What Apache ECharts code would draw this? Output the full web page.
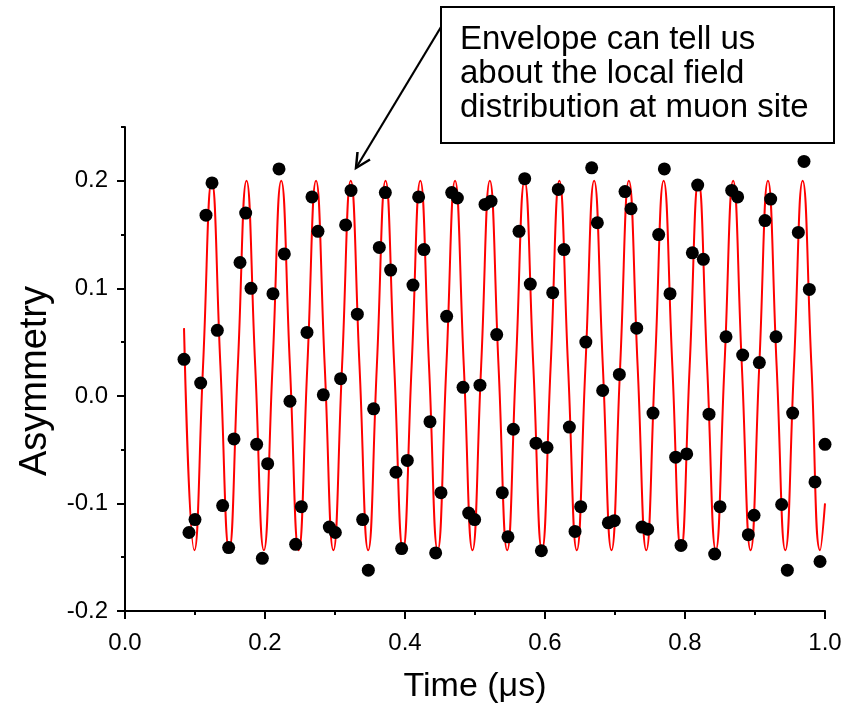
<!DOCTYPE html>
<html>
<head>
<meta charset="utf-8">
<script src="https://cdn.jsdelivr.net/npm/echarts@6/dist/echarts.min.js"></script>
<style>
  html, body { margin: 0; padding: 0; background: #fff; }
  #chart { width: 846px; height: 710px; }
</style>
</head>
<body>
<div id="chart"></div>
<script>
// ---- measured data points (time in microseconds, asymmetry) ----
const dataTime = [
  0.0843, 0.0914, 0.1000, 0.1081, 0.1157, 0.1243, 0.1319, 0.1395, 0.1481, 0.1557,
  0.1643, 0.1724, 0.1800, 0.1881, 0.1962, 0.2038, 0.2114, 0.2200, 0.2276, 0.2357,
  0.2438, 0.2519, 0.2600, 0.2671, 0.2757, 0.2833, 0.2919, 0.3005, 0.3080, 0.3152,
  0.3229, 0.3319, 0.3395, 0.3476, 0.3552, 0.3633, 0.3719, 0.3795, 0.3871, 0.3952,
  0.4033, 0.4114, 0.4195, 0.4271, 0.4357, 0.4438, 0.4514, 0.4595, 0.4667, 0.4748,
  0.4829, 0.4910, 0.4995, 0.5071, 0.5143, 0.5229, 0.5310, 0.5390, 0.5471, 0.5548,
  0.5629, 0.5710, 0.5790, 0.5871, 0.5948, 0.6029, 0.6110, 0.6190, 0.6271, 0.6348,
  0.6429, 0.6510, 0.6583, 0.6667, 0.6748, 0.6824, 0.6905, 0.6990, 0.7062, 0.7143,
  0.7229, 0.7310, 0.7386, 0.7467, 0.7543, 0.7624, 0.7705, 0.7786, 0.7867, 0.7943,
  0.8024, 0.8105, 0.8181, 0.8262, 0.8343, 0.8424, 0.8500, 0.8586, 0.8667, 0.8752,
  0.8824, 0.8905, 0.8986, 0.9062, 0.9143, 0.9224, 0.9300, 0.9381, 0.9462, 0.9538,
  0.9619, 0.9700, 0.9776, 0.9857, 0.9929, 1.0000
];
const dataAsym = [
  0.034, -0.127, -0.115, 0.012, 0.168, 0.198, 0.061, -0.102, -0.141, -0.040,
  0.124, 0.170, 0.100, -0.045, -0.151, -0.063, 0.095, 0.211, 0.132, -0.005,
  -0.138, -0.103, 0.059, 0.185, 0.153, 0.001, -0.122, -0.127, 0.016, 0.159,
  0.191, 0.076, -0.115, -0.162, -0.012, 0.138, 0.189, 0.117, -0.071, -0.142,
  -0.060, 0.103, 0.185, 0.136, -0.024, -0.146, -0.090, 0.074, 0.189, 0.184,
  0.008, -0.109, -0.115, 0.010, 0.178, 0.181, 0.057, -0.090, -0.131, -0.031,
  0.153, 0.202, 0.104, -0.044, -0.144, -0.048, 0.096, 0.192, 0.136, -0.029,
  -0.126, -0.103, 0.050, 0.212, 0.161, 0.005, -0.118, -0.116, 0.020, 0.190,
  0.174, 0.063, -0.122, -0.124, -0.016, 0.150, 0.211, 0.095, -0.057, -0.139,
  -0.054, 0.133, 0.196, 0.127, -0.017, -0.147, -0.103, 0.055, 0.191, 0.185,
  0.038, -0.129, -0.111, 0.031, 0.163, 0.183, 0.055, -0.101, -0.162, -0.016,
  0.152, 0.218, 0.099, -0.080, -0.154, -0.045
];

// ---- fitted curve, read at its troughs / crossings / peaks ----
const fitTime = [
  0.0843,
  0.0991, 0.1115, 0.1239, 0.1363,
  0.1488, 0.1612, 0.1736, 0.1860,
  0.1984, 0.2108, 0.2232, 0.2356,
  0.2481, 0.2605, 0.2729, 0.2853,
  0.2977, 0.3101, 0.3225, 0.3350,
  0.3474, 0.3598, 0.3722, 0.3846,
  0.3971, 0.4095, 0.4219, 0.4343,
  0.4467, 0.4591, 0.4715, 0.4840,
  0.4964, 0.5088, 0.5212, 0.5336,
  0.5460, 0.5584, 0.5708, 0.5833,
  0.5957, 0.6081, 0.6205, 0.6329,
  0.6454, 0.6578, 0.6702, 0.6826,
  0.6950, 0.7074, 0.7198, 0.7323,
  0.7447, 0.7571, 0.7695, 0.7819,
  0.7943, 0.8067, 0.8192, 0.8316,
  0.8440, 0.8564, 0.8688, 0.8812,
  0.8937, 0.9061, 0.9185, 0.9309,
  0.9433, 0.9557, 0.9681, 0.9806,
  0.9930,
  1.0000
];
const fitAsym = [
  0.063,
  -0.1435, 0.028, 0.200, 0.028,
  -0.1435, 0.028, 0.200, 0.028,
  -0.1435, 0.028, 0.200, 0.028,
  -0.1435, 0.028, 0.200, 0.028,
  -0.1435, 0.028, 0.200, 0.028,
  -0.1435, 0.028, 0.200, 0.028,
  -0.1435, 0.028, 0.200, 0.028,
  -0.1435, 0.028, 0.200, 0.028,
  -0.1435, 0.028, 0.200, 0.028,
  -0.1435, 0.028, 0.200, 0.028,
  -0.1435, 0.028, 0.200, 0.028,
  -0.1435, 0.028, 0.200, 0.028,
  -0.1435, 0.028, 0.200, 0.028,
  -0.1435, 0.028, 0.200, 0.028,
  -0.1435, 0.028, 0.200, 0.028,
  -0.1435, 0.028, 0.200, 0.028,
  -0.1435, 0.028, 0.200, 0.028,
  -0.1435, 0.028, 0.200, 0.028,
  -0.1435,
  -0.100
];

// ---- axis ticks / labels ----
const xLabelValues = [0, 0.2, 0.4, 0.6, 0.8, 1.0];
const yLabelValues = [-0.2, -0.1, 0, 0.1, 0.2];
const xTitle = 'Time (\u03bcs)';
const yTitle = 'Asymmetry';
const noteText = ['Envelope can tell us', 'about the local field', 'distribution at muon site'];

const FONT = '"Liberation Sans", Arial, Helvetica, sans-serif';
const BLACK = '#000';

const chart = echarts.init(document.getElementById('chart'), null, { renderer: 'canvas' });

const scatterData = dataTime.map((t, i) => [t, dataAsym[i]]);
const fitData = fitTime.map((t, i) => [t, fitAsym[i]]);

const option = {
  backgroundColor: '#fff',
  animation: false,
  grid: { left: 125, right: 21, top: 127, bottom: 99, containLabel: false, outerBoundsMode: 'none' },
  xAxis: {
    type: 'value',
    min: 0, max: 1, interval: 0.2,
    axisLine: { onZero: false, lineStyle: { color: BLACK, width: 2 } },
    axisTick: { length: 8, lineStyle: { color: BLACK, width: 2 } },
    minorTick: { show: true, splitNumber: 2, length: 4, lineStyle: { color: BLACK, width: 2 } },
    splitLine: { show: false },
    minorSplitLine: { show: false },
    axisLabel: {
      customValues: xLabelValues,
      formatter: v => v.toFixed(1),
      fontSize: 24, color: BLACK, fontFamily: FONT, margin: 20
    },
    name: xTitle,
    nameLocation: 'middle',
    nameGap: 59,
    nameTextStyle: { fontSize: 34, color: BLACK, fontFamily: FONT }
  },
  yAxis: [
    {
      type: 'value',
      min: -0.2, max: 0.25, interval: 0.05,
      axisLine: { onZero: false, lineStyle: { color: BLACK, width: 2 } },
      axisTick: { length: 4, lineStyle: { color: BLACK, width: 2 } },
      splitLine: { show: false },
      axisLabel: {
        customValues: yLabelValues,
        formatter: v => v.toFixed(1),
        fontSize: 24, color: BLACK, fontFamily: FONT, margin: 17
      },
      name: yTitle,
      nameLocation: 'middle',
      nameGap: 70,
      nameTextStyle: { fontSize: 38, color: BLACK, fontFamily: FONT, padding: [0, 24, 0, 0] }
    },
    {
      type: 'value',
      position: 'left',
      offset: 0,
      min: -0.2, max: 0.25,
      axisLine: { show: false, onZero: false },
      axisTick: { show: true, customValues: yLabelValues, length: 8, lineStyle: { color: BLACK, width: 2 } },
      axisLabel: { show: false },
      splitLine: { show: false }
    }
  ],
  series: [
    {
      type: 'line',
      data: fitData,
      smooth: 0.5,
      showSymbol: false,
      symbol: 'none',
      lineStyle: { color: '#ff0000', width: 2 },
      z: 2
    },
    {
      type: 'scatter',
      data: scatterData,
      symbol: 'circle',
      symbolSize: 13,
      itemStyle: { color: BLACK, opacity: 1 },
      z: 3
    }
  ],
  graphic: [
    {
      type: 'line',
      shape: { x1: 441, y1: 27, x2: 356, y2: 168 },
      style: { stroke: BLACK, lineWidth: 2.2 },
      z: 10
    },
    {
      type: 'polyline',
      shape: { points: [[370, 159.5], [356, 168], [357.5, 152]] },
      style: { stroke: BLACK, lineWidth: 2.5, fill: null },
      z: 10
    },
    {
      type: 'rect',
      shape: { x: 441, y: 7, width: 393, height: 136 },
      style: { fill: '#fff', stroke: BLACK, lineWidth: 2 },
      z: 10
    },
    {
      type: 'text',
      x: 460, y: 23,
      style: {
        text: noteText.join('\n'),
        fontSize: 33, fontFamily: FONT, fill: BLACK,
        lineHeight: 34, align: 'left', verticalAlign: 'top'
      },
      z: 11
    }
  ]
};

chart.setOption(option);
</script>
</body>
</html>
